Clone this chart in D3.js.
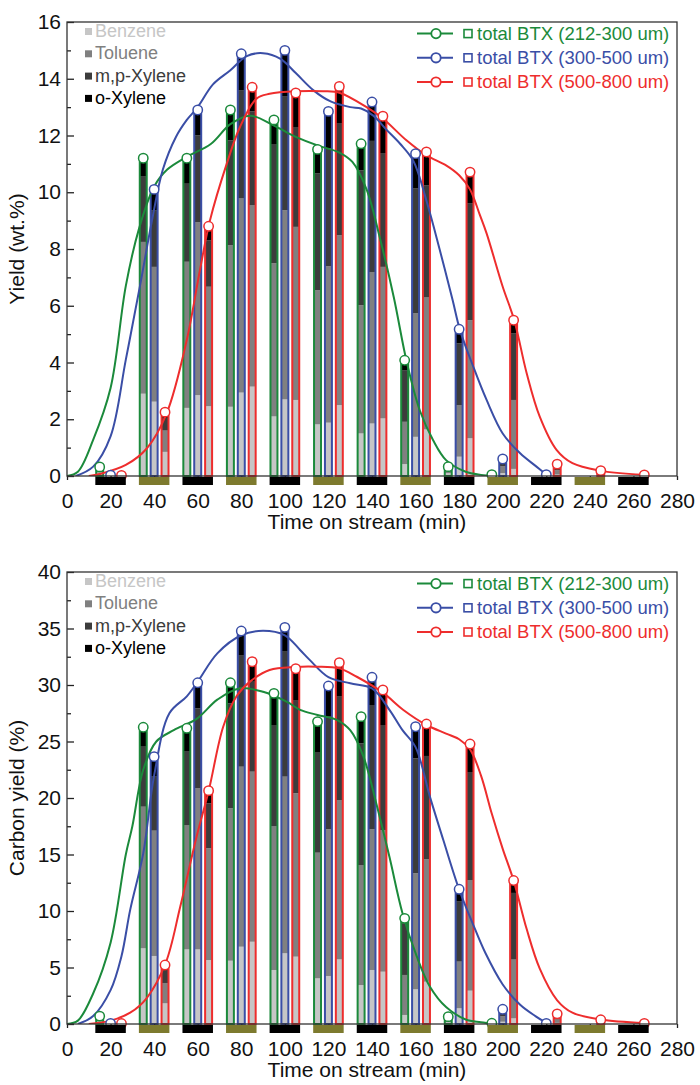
<!DOCTYPE html>
<html>
<head>
<meta charset="utf-8">
<script src="https://cdn.jsdelivr.net/npm/d3@7"></script>
<style>
body { margin: 0; background: #fff; }
svg text { font-family: "Liberation Sans", Arial, sans-serif; }
</style>
</head>
<body>
<div id="chart"></div>
<script>
// Sizing
var width = 700;
var height = 1085;
var plotLeft = 67;
var plotRight = 677;

// Time on stream (min) of each sample, per particle size
var timesSmall = [15, 35, 55, 75, 95, 115, 135, 155, 175, 195];
var timesMedium = [20, 40, 60, 80, 100, 120, 140, 160, 180, 200, 220];
var timesLarge = [25, 45, 65, 85, 105, 125, 145, 165, 185, 205, 225, 245, 265];

// Yield (wt.%) per bar: [benzene, toluene, m,p-xylene, o-xylene]
var yieldSmall = [
    [0.12, 0.1, 0.06, 0.04], [2.9, 5.35, 2.3, 0.65], [2.4, 5.15, 2.75, 0.9],
    [2.44, 5.69, 3.7, 1.07], [2.1, 5.4, 4.2, 0.85], [1.82, 4.73, 4.11, 0.85],
    [1.5, 4.52, 4.75, 0.94], [0.42, 1.49, 1.82, 0.35], [0.1, 0.1, 0.08, 0.05],
    [0.02, 0.02, 0.01, 0]
];
var yieldMedium = [
    [0.02, 0.01, 0, 0], [2.62, 4.75, 2.0, 0.73], [2.85, 6.1, 3.05, 0.9],
    [2.94, 6.84, 3.82, 1.28], [2.7, 6.67, 4.0, 1.63], [1.88, 5.51, 4.15, 1.31],
    [1.85, 5.34, 4.62, 1.37], [1.38, 4.35, 4.4, 1.23], [0.68, 1.82, 2.17, 0.5],
    [0.1, 0.25, 0.15, 0.1], [0.02, 0.02, 0.01, 0]
];
var yieldLarge = [
    [0.02, 0, 0, 0], [0.85, 0.75, 0.45, 0.2], [2.46, 4.21, 1.63, 0.5],
    [3.15, 6.4, 3.3, 0.85], [2.68, 6.1, 3.52, 1.2], [2.5, 5.99, 3.95, 1.29],
    [2.03, 5.34, 3.99, 1.32], [1.64, 4.65, 3.96, 1.17], [1.33, 4.16, 4.11, 1.11],
    [0.25, 2.43, 2.34, 0.47], [0.05, 0.15, 0.12, 0.1], [0.1, 0.05, 0.03, 0.01],
    [0.02, 0.01, 0.01, 0]
];

// Fitted total BTX yield curves [time, value]
var yieldFitSmall = [[0, 0], [5, 0.15], [12, 1.27], [20, 3.1], [27, 6.7], [33, 8.7], [40, 10.2],
    [46, 10.8], [55, 11.25], [66, 11.7], [75, 12.4], [84, 12.7], [95, 12.35], [105, 11.95],
    [115, 11.65], [125, 11.4], [131, 11.07], [137.5, 10.1], [143.6, 8.4], [150, 6.3], [156, 4.0],
    [162, 2.3], [168, 1.27], [174, 0.56], [183, 0.15], [190, 0.04], [196, 0]];
var yieldFitMedium = [[4, 0], [12, 0.33], [20, 1.4], [27, 4.1], [33.5, 6.7], [39, 9.0], [44, 10.8],
    [50, 11.95], [55, 12.55], [60, 13.0], [67, 13.8], [75, 14.3], [82.5, 14.8], [90, 14.9],
    [98, 14.7], [105, 14.2], [113, 13.6], [121, 13.2], [130, 13.0], [135, 12.95], [140.6, 12.7],
    [146.7, 12.2], [153, 11.7], [159, 11.1], [165, 9.7], [171, 8.0], [177, 6.2], [180.4, 5.14],
    [186.5, 3.85], [192.6, 2.68], [200, 1.5], [208, 0.8], [215.5, 0.33], [220, 0.05]];
var yieldFitLarge = [[10, 0], [15, 0.07], [27, 0.39], [36.6, 0.97], [45.7, 2.2], [55, 4.8],
    [61, 7.25], [65.6, 9.0], [73.3, 11.0], [79.4, 12.3], [87, 13.3], [93, 13.47], [105, 13.56],
    [117.6, 13.56], [125.3, 13.5], [137.5, 13.0], [145, 12.6], [155.8, 11.83], [165, 11.3],
    [174, 10.95], [180, 10.6], [185, 10.1], [189.5, 9.2], [192.6, 8.55], [200, 6.67], [205.3, 5.49],
    [211, 3.62], [217, 2.09], [224.7, 0.92], [232, 0.45], [244.6, 0.19], [264.5, 0.04]];

// Carbon yield (%) per bar: [benzene, toluene, m,p-xylene, o-xylene]
var carbonSmall = [
    [0.25, 0.25, 0.12, 0.08], [6.7, 12.53, 5.31, 1.72], [6.6, 11.01, 6.49, 2.07],
    [5.6, 13.49, 9.29, 1.82], [4.78, 12.74, 8.94, 2.8], [4.04, 11.12, 8.85, 2.75],
    [3.45, 10.62, 10.77, 2.36], [0.8, 3.54, 4.57, 0.44], [0.15, 0.25, 0.15, 0.1],
    [0.03, 0.02, 0.01, 0]
];
var carbonMedium = [
    [0.03, 0.02, 0, 0], [6.02, 11.09, 4.78, 1.77], [6.6, 14.25, 7.08, 2.27],
    [6.84, 15.93, 9.88, 2.13], [6.26, 15.63, 11.06, 2.15], [4.25, 12.98, 9.97, 2.71],
    [4.78, 12.45, 11.0, 2.45], [3.07, 10.27, 10.17, 2.8], [1.39, 4.13, 5.31, 1.09],
    [0.2, 0.5, 0.4, 0.2], [0.03, 0.02, 0, 0]
];
var carbonLarge = [
    [0.03, 0.01, 0, 0], [1.83, 1.8, 1.15, 0.44], [5.66, 9.89, 3.98, 1.12],
    [7.28, 15.05, 7.96, 1.77], [5.96, 14.46, 8.25, 2.77], [5.72, 14.1, 9.15, 3.01],
    [4.63, 12.54, 9.29, 3.1], [3.74, 10.83, 9.15, 2.83], [2.95, 9.79, 9.5, 2.54],
    [0.5, 5.2, 5.9, 1.1], [0.1, 0.3, 0.3, 0.2], [0.2, 0.1, 0.05, 0.02],
    [0.03, 0.01, 0.01, 0]
];

// Fitted total BTX carbon yield curves [time, value]
var carbonFitSmall = [[0, 0], [5, 0.3], [12, 2.7], [20, 7.2], [27, 15], [30, 17.5], [35, 22.5],
    [41, 25], [49, 26], [59.5, 27], [69, 28.7], [79, 29.7], [90, 29.4], [101, 28.5], [107, 27.8],
    [115, 27.35], [124, 26.9], [130, 26], [136, 23.7], [142, 19.5], [148, 14.8], [154, 9.8],
    [160.5, 6.0], [166.6, 3.3], [174, 1.5], [183, 0.4], [190, 0.15], [196, 0]];
var carbonFitMedium = [[5, 0], [12, 0.7], [20, 3], [25, 6], [29, 10.1], [35, 15.1], [40, 22],
    [47, 27.5], [55, 29], [60, 30.3], [69, 32.8], [80, 34.4], [90, 34.8], [100, 34.4],
    [107, 33.1], [111.5, 32.2], [120, 30.7], [130, 30.15], [140, 29.7], [148, 27.8], [154, 26],
    [160, 24.5], [166.6, 20.1], [172.7, 16.3], [180, 11.9], [186, 9.0], [192, 6.3], [200, 3.5],
    [208, 1.7], [215, 0.7], [221, 0]];
var carbonFitLarge = [[10, 0], [20, 0.3], [29, 1.0], [36.6, 2.3], [45.3, 5.4], [52, 10.4],
    [59.5, 16.6], [65, 20.6], [71.7, 26.3], [77.8, 29], [84, 30.3], [93, 31.33], [105, 31.6],
    [114.6, 31.62], [125, 31.47], [133, 30.73], [145, 29.32], [154.4, 27.79], [165, 26.46],
    [174, 25.7], [180, 25.2], [185, 24.3], [190, 22.0], [195, 18.6], [200, 15.5], [205, 12.7],
    [211, 8.4], [217, 4.9], [225, 2.1], [232, 1.0], [245, 0.4], [265, 0.08]];

// Labels, colours, ticks
var components = ["Benzene", "Toluene", "m,p-Xylene", "o-Xylene"];
var componentColors = ["#c6c6c6", "#808080", "#3c3c3c", "#000000"];
var seriesNames = ["total BTX (212-300 um)", "total BTX (300-500 um)", "total BTX (500-800 um)"];
var seriesColors = ["#1b8a3b", "#3a4ea6", "#ee2d2d"];
var bandCenters = [20, 40, 60, 80, 100, 120, 140, 160, 180, 200, 220, 240, 260];
var bandColors = ["#000000", "#7d7a2e"];
var xTickValues = [0, 20, 40, 60, 80, 100, 120, 140, 160, 180, 200, 220, 240, 260, 280];
var yieldTicks = [0, 2, 4, 6, 8, 10, 12, 14, 16];
var carbonTicks = [0, 5, 10, 15, 20, 25, 30, 35, 40];

// Elements
var svg = d3.select("#chart")
    .append("svg")
    .attr("width", width)
    .attr("height", height);

var x = d3.scaleLinear().domain([0, 280]).range([plotLeft, plotRight]);

function drawPanel(opts, id) {
    var g = svg.append("g");
    var y = d3.scaleLinear().domain([0, opts.yMax]).range([opts.bottom, opts.top]);
    var barHalf = 1.6;

    // keep the curves inside the plot box
    svg.append("clipPath")
        .attr("id", "clip" + id)
        .append("rect")
        .attr("x", plotLeft).attr("y", opts.top - 5)
        .attr("width", plotRight - plotLeft).attr("height", opts.bottom - opts.top + 5);

    // Stacked bars
    opts.series.forEach(function (s, si) {
        s.times.forEach(function (t, i) {
            var parts = s.values[i];
            var x0 = x(t - barHalf), w = x(t + barHalf) - x(t - barHalf);
            var acc = 0;
            parts.forEach(function (v, k) {
                g.append("rect")
                    .attr("x", x0).attr("width", w)
                    .attr("y", y(acc + v)).attr("height", y(acc) - y(acc + v))
                    .attr("fill", componentColors[k]);
                acc += v;
            });
            g.append("rect")
                .attr("x", x0).attr("width", w)
                .attr("y", y(acc)).attr("height", y(0) - y(acc))
                .attr("fill", "none")
                .attr("stroke", seriesColors[si])
                .attr("stroke-width", 2);
        });
    });

    // Fitted curves
    var line = d3.line()
        .x(function (d) { return x(d[0]); })
        .y(function (d) { return y(d[1]); })
        .curve(d3.curveCatmullRom.alpha(0.5));
    opts.series.forEach(function (s, si) {
        g.append("path")
            .attr("d", line(s.fit))
            .attr("clip-path", "url(#clip" + id + ")")
            .attr("fill", "none")
            .attr("stroke", seriesColors[si])
            .attr("stroke-width", 2);
    });

    // Markers on top of the bars
    opts.series.forEach(function (s, si) {
        s.times.forEach(function (t, i) {
            g.append("circle")
                .attr("cx", x(t))
                .attr("cy", y(d3.sum(s.values[i])))
                .attr("r", 4.7)
                .attr("fill", "#fff")
                .attr("stroke", seriesColors[si])
                .attr("stroke-width", 1.5);
        });
    });

    // x axis
    var xAxis = g.append("g")
        .attr("transform", "translate(0," + opts.bottom + ")")
        .call(d3.axisBottom(x).tickValues(xTickValues).tickSize(4).tickPadding(13));
    xAxis.select(".domain").remove();
    xAxis.selectAll("text").attr("font-size", 21).attr("fill", "#111");

    // Switching bands below the axis
    g.selectAll(".band")
        .data(bandCenters)
        .enter()
        .append("rect")
        .attr("x", function (d) { return x(d - 7); })
        .attr("width", function (d) { return x(d + 7) - x(d - 7); })
        .attr("y", opts.bottom + 1)
        .attr("height", 8)
        .attr("fill", function (d, i) { return bandColors[i % 2]; });

    // y axis, major and minor ticks pointing inward
    var yAxis = g.append("g")
        .attr("transform", "translate(" + plotLeft + ",0)")
        .call(d3.axisLeft(y).tickValues(opts.ticks).tickSize(-7).tickPadding(6));
    yAxis.select(".domain").remove();
    yAxis.selectAll("text").attr("font-size", 21).attr("fill", "#111");

    var minor = d3.pairs(opts.ticks).map(function (p) { return (p[0] + p[1]) / 2; });
    var yMinor = g.append("g")
        .attr("transform", "translate(" + plotLeft + ",0)")
        .call(d3.axisLeft(y).tickValues(minor).tickSize(-4).tickFormat(""));
    yMinor.select(".domain").remove();

    g.selectAll(".tick line").attr("stroke", "#222").attr("stroke-width", 1.3);

    // Frame
    g.append("rect")
        .attr("x", plotLeft).attr("y", opts.top)
        .attr("width", plotRight - plotLeft).attr("height", opts.bottom - opts.top)
        .attr("fill", "none")
        .attr("stroke", "#333")
        .attr("stroke-width", 1.3);

    // Axis titles
    g.append("text")
        .attr("transform", "rotate(-90)")
        .attr("x", -(opts.top + opts.bottom) / 2)
        .attr("y", 24)
        .attr("text-anchor", "middle")
        .attr("font-size", 21)
        .attr("fill", "#111")
        .text(opts.title);
    g.append("text")
        .attr("x", (plotLeft + plotRight) / 2 - 5)
        .attr("y", opts.bottom + 53)
        .attr("text-anchor", "middle")
        .attr("font-size", 21)
        .attr("fill", "#111")
        .text("Time on stream (min)");

    // Component legend
    components.forEach(function (c, k) {
        var base = opts.top + 15 + k * 22.3;
        g.append("rect")
            .attr("x", 85).attr("y", base - 9)
            .attr("width", 7).attr("height", 7)
            .attr("fill", componentColors[k]);
        g.append("text")
            .attr("x", 95).attr("y", base)
            .attr("font-size", 18)
            .attr("fill", componentColors[k])
            .text(c);
    });

    // Series legend
    seriesNames.forEach(function (name, si) {
        var cy = opts.top + 11.6 + si * 24.2;
        g.append("line")
            .attr("x1", 417).attr("x2", 453)
            .attr("y1", cy).attr("y2", cy)
            .attr("stroke", seriesColors[si]).attr("stroke-width", 2);
        g.append("circle")
            .attr("cx", 436).attr("cy", cy).attr("r", 4.7)
            .attr("fill", "#fff")
            .attr("stroke", seriesColors[si]).attr("stroke-width", 1.8);
        g.append("rect")
            .attr("x", 464).attr("y", cy - 4)
            .attr("width", 8).attr("height", 8)
            .attr("fill", "#fff")
            .attr("stroke", seriesColors[si]).attr("stroke-width", 1.6);
        g.append("text")
            .attr("x", 477).attr("y", cy + 6)
            .attr("font-size", 18.5)
            .attr("fill", seriesColors[si])
            .text(name);
    });
}

drawPanel({
    top: 22,
    bottom: 476,
    yMax: 16,
    ticks: yieldTicks,
    title: "Yield (wt.%)",
    series: [
        { times: timesSmall, values: yieldSmall, fit: yieldFitSmall },
        { times: timesMedium, values: yieldMedium, fit: yieldFitMedium },
        { times: timesLarge, values: yieldLarge, fit: yieldFitLarge }
    ]
}, 1);

drawPanel({
    top: 572,
    bottom: 1024,
    yMax: 40,
    ticks: carbonTicks,
    title: "Carbon yield (%)",
    series: [
        { times: timesSmall, values: carbonSmall, fit: carbonFitSmall },
        { times: timesMedium, values: carbonMedium, fit: carbonFitMedium },
        { times: timesLarge, values: carbonLarge, fit: carbonFitLarge }
    ]
}, 2);
</script>
</body>
</html>
